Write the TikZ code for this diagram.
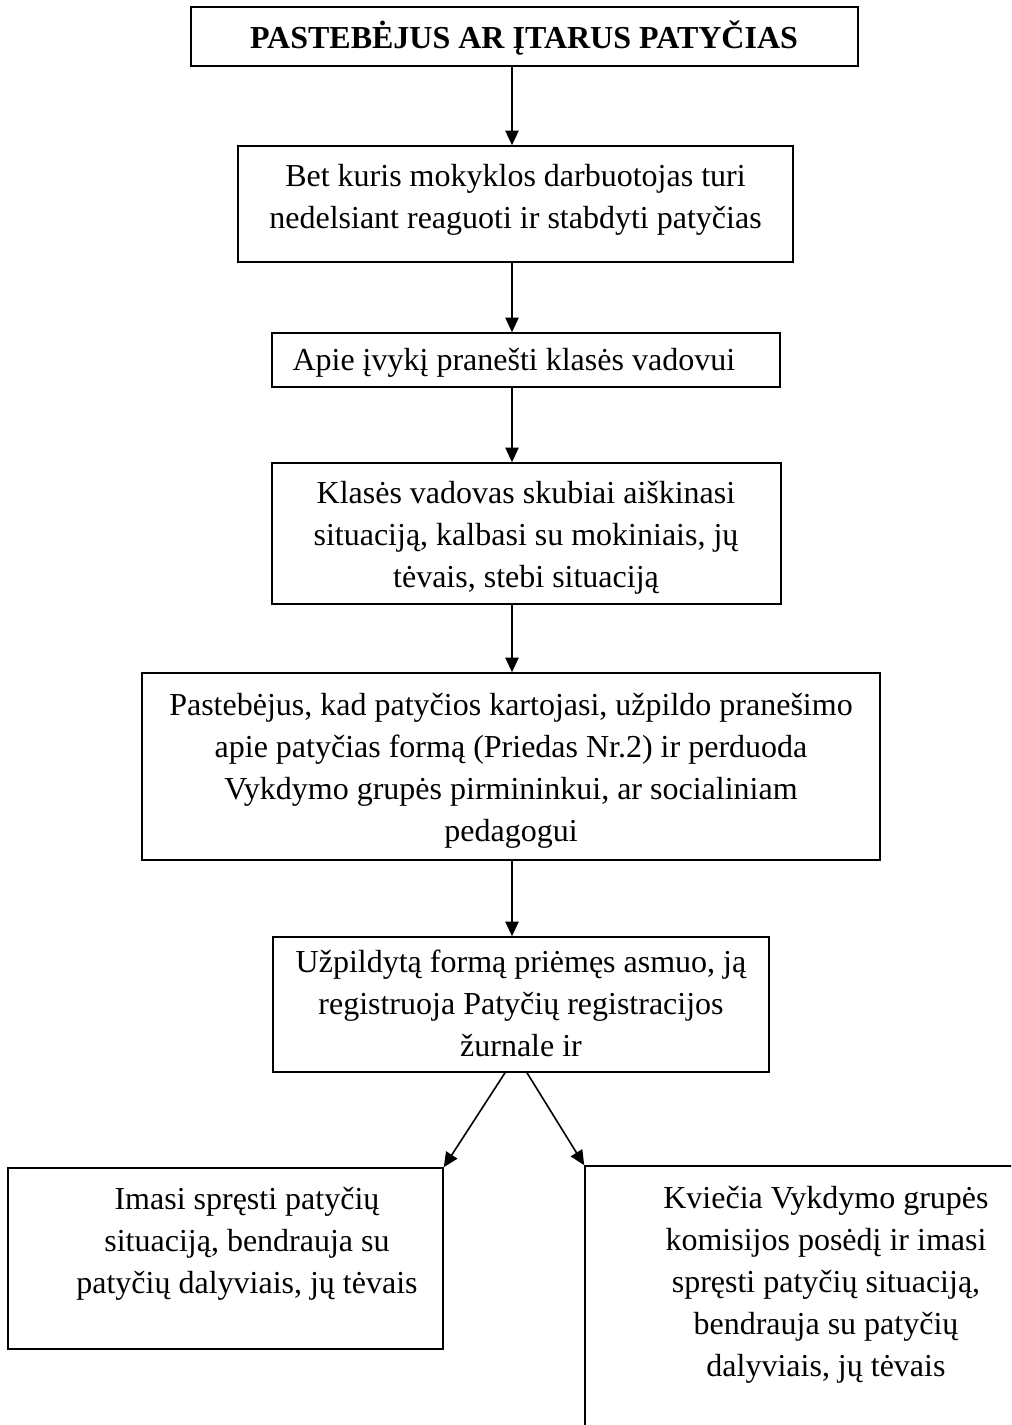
\documentclass[tikz,border=0pt]{standalone}
\usepackage{fontspec}
\setmainfont{Liberation Serif}
\usetikzlibrary{arrows.meta,fit}
\newcommand\boxlines[1]{\vtop{\baselineskip=15.75pt\lineskiplimit=-20pt\halign{\hfil##\hfil\cr#1\crcr}}}
\begin{document}
\begin{tikzpicture}[x=0.375pt,y=-0.375pt,
  boxshape/.style={draw, line width=0.6pt, inner sep=0pt, rectangle},
  txt/.style={anchor=base, inner sep=0pt, font=\fontsize{12pt}{15.75pt}\selectfont},
  arr/.style={line width=0.6pt, -{Triangle[width=5pt,length=5.5pt]}}]
\useasboundingbox (0,0) rectangle (1011,1425);
\clip (0,0) rectangle (1011,1425);
\fill[white] (0,0) rectangle (1011,1425);
% boxes
\node[boxshape, fit={(191,7)(858,66)}] (b1) {};
\node[boxshape, fit={(238,146)(793,262)}] (b2) {};
\node[boxshape, fit={(272,333)(780,387)}] (b3) {};
\node[boxshape, fit={(272,463)(781,604)}] (b4) {};
\node[boxshape, fit={(142,673)(880,860)}] (b5) {};
\node[boxshape, fit={(273,937)(769,1072)}] (b6) {};
\node[boxshape, fit={(8,1168)(443,1349)}] (b7) {};
\node[boxshape, fit={(585,1166)(1070,1480)}] (b8) {};
% texts
\node[txt] (t1) at (524,48) {\bfseries PASTEBĖJUS AR ĮTARUS PATYČIAS};
\node[txt] (t2) at (515.5,186) {\boxlines{Bet kuris mokyklos darbuotojas turi\cr nedelsiant reaguoti ir stabdyti patyčias}};
\node[txt, anchor=base west] (t3) at (292,370) {Apie įvykį pranešti klasės vadovui};
\node[txt] (t4) at (526,503) {\boxlines{Klasės vadovas skubiai aiškinasi\cr situaciją, kalbasi su mokiniais, jų\cr tėvais, stebi situaciją}};
\node[txt] (t5) at (511,715) {\boxlines{Pastebėjus, kad patyčios kartojasi, užpildo pranešimo\cr apie patyčias formą (Priedas Nr.2) ir perduoda\cr Vykdymo grupės pirmininkui, ar socialiniam\cr pedagogui}};
\node[txt] (t6) at (521,972) {\boxlines{Užpildytą formą priėmęs asmuo, ją\cr registruoja Patyčių registracijos\cr žurnale ir}};
\node[txt] (t7) at (247,1209) {\boxlines{Imasi spręsti patyčių\cr situaciją, bendrauja su\cr patyčių dalyviais, jų tėvais}};
\node[txt] (t8) at (826,1208) {\boxlines{Kviečia Vykdymo grupės\cr komisijos posėdį ir imasi\cr spręsti patyčių situaciją,\cr bendrauja su patyčių\cr dalyviais, jų tėvais}};
% connectors
\coordinate (ax) at (512,0);
\coordinate (sl) at (505,0);
\coordinate (sr) at (527,0);
\draw[arr] (b1.south -| ax) -- (b2.north -| ax);
\draw[arr] (b2.south -| ax) -- (b3.north -| ax);
\draw[arr] (b3.south -| ax) -- (b4.north -| ax);
\draw[arr] (b4.south -| ax) -- (b5.north -| ax);
\draw[arr] (b5.south -| ax) -- (b6.north -| ax);
\draw[arr] (b6.south -| sl) -- (b7.north east);
\draw[arr] (b6.south -| sr) -- (b8.north west);
\end{tikzpicture}
\end{document}
